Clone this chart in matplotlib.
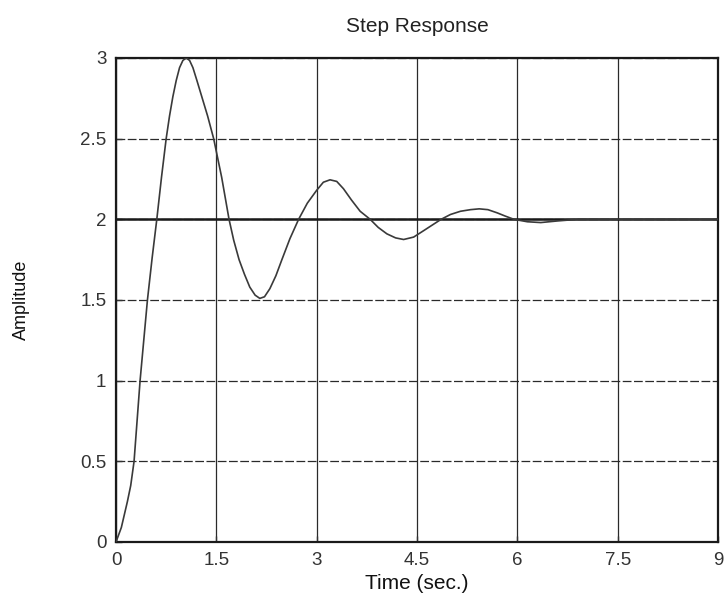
import matplotlib
matplotlib.use("Agg")
import matplotlib.pyplot as plt

# Step response
time_s = [0, 0.08, 0.17, 0.22, 0.27, 0.36, 0.47, 0.54, 0.61, 0.68, 0.75, 0.8, 0.85,
          0.9, 0.95, 1.0, 1.05, 1.1, 1.15, 1.21, 1.29, 1.37, 1.46, 1.58, 1.69,
          1.76, 1.84, 1.92, 2.0, 2.08, 2.15, 2.22, 2.3, 2.39, 2.48, 2.6, 2.73,
          2.86, 3.0, 3.1, 3.2, 3.3, 3.4, 3.52, 3.65, 3.8, 3.92, 4.05, 4.18,
          4.3, 4.45, 4.6, 4.73, 4.86, 5.0, 5.15, 5.3, 5.43, 5.56, 5.7, 5.82,
          5.95, 6.15, 6.35, 6.6, 6.9, 7.5, 8.25, 9.0]
amplitude = [0, 0.09, 0.25, 0.35, 0.5, 1.0, 1.5, 1.76, 2.0, 2.26, 2.5, 2.64, 2.76,
             2.86, 2.94, 2.985, 3.0, 2.985, 2.94, 2.86, 2.75, 2.64, 2.5, 2.26, 2.0,
             1.87, 1.75, 1.66, 1.58, 1.53, 1.51, 1.52, 1.57, 1.65, 1.75, 1.88, 2.0,
             2.1, 2.18, 2.23, 2.245, 2.235, 2.19, 2.12, 2.05, 2.0, 1.95, 1.91, 1.885,
             1.875, 1.89, 1.93, 1.965, 2.0, 2.03, 2.05, 2.06, 2.065, 2.06, 2.04, 2.02,
             2.0, 1.985, 1.98, 1.99, 2.0, 2.0, 2.0, 2.0]
final_time = [0, 9]
final_value = [2, 2]

x_ticks = [0, 1.5, 3, 4.5, 6, 7.5, 9]
x_tick_labels = ["0", "1.5", "3", "4.5", "6", "7.5", "9"]
y_ticks = [0, 0.5, 1, 1.5, 2, 2.5, 3]
y_tick_labels = ["0", "0.5", "1", "1.5", "2", "2.5", "3"]

plt.rcParams['font.family'] = ['Liberation Sans', 'DejaVu Sans']

fig = plt.figure(figsize=(7.26, 6.12), dpi=100)
ax = fig.add_axes([116/726, 1 - 542/612, (718 - 116)/726, (542 - 58)/612])

ax.plot(final_time, final_value, color='#1a1a1a', linewidth=1.8, zorder=3)
ax.plot(time_s, amplitude, color='#3a3a3a', linewidth=1.2, zorder=4)

ax.set_xlim(0, 9)
ax.set_ylim(0, 3)
ax.set_xticks(x_ticks)
ax.set_xticklabels(x_tick_labels)
ax.set_yticks(y_ticks)
ax.set_yticklabels(y_tick_labels)

ax.xaxis.grid(True, color='#2a2a2a', linewidth=0.9, linestyle='-')
ax.yaxis.grid(True, color='#2a2a2a', linewidth=0.9, linestyle=(0, (7, 2)))
ax.set_axisbelow(True)

for s in ax.spines.values():
    s.set_linewidth(1.6)
    s.set_color('#1a1a1a')

ax.tick_params(direction='in', length=4, width=1, labelsize=13.5,
               colors='#333333', pad=7)

ax.set_title("Step Response", fontsize=15, color='#222222', pad=19)
ax.set_xlabel("Time (sec.)", fontsize=15, color='#111111', labelpad=4)
ax.set_ylabel("Amplitude", fontsize=13, color='#111111', labelpad=36)

fig.savefig("out.png", dpi=100)
